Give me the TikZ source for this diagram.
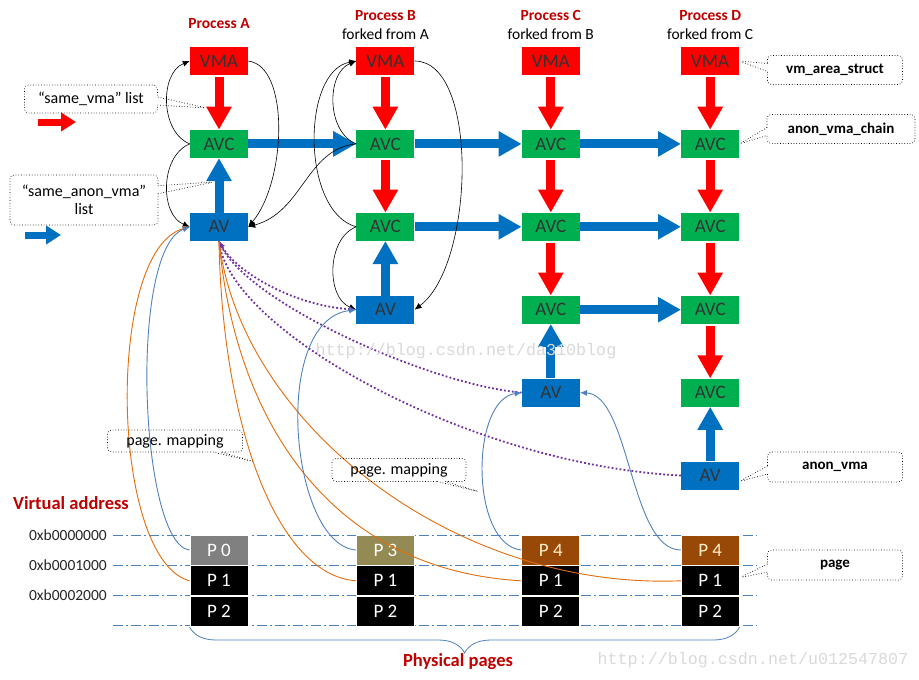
\documentclass[tikz,border=0pt]{standalone}
\usepackage{fontspec}
\setmainfont{Carlito}
\newfontfamily\wmfont{Liberation Mono}
\usetikzlibrary{arrows.meta,positioning,calc,shapes.callouts,decorations.pathreplacing}
\definecolor{vmared}{HTML}{FF0000}
\definecolor{avcgreen}{HTML}{00B050}
\definecolor{avblue}{HTML}{0070C0}
\definecolor{procred}{HTML}{C00000}
\definecolor{linkblue}{HTML}{4F81BD}
\definecolor{maporange}{HTML}{E46C0A}
\definecolor{dotpurple}{HTML}{7030A0}
\definecolor{pggray}{HTML}{808080}
\definecolor{pgolive}{HTML}{948A54}
\definecolor{pgbrown}{HTML}{984807}
\definecolor{pgcream}{HTML}{FFEFC8}

\begin{document}
\begin{tikzpicture}[x=1pt,y=-1pt,node distance=54.5pt,>={Latex[length=7pt,width=6pt]},
  box/.style={minimum width=58pt,minimum height=28pt,inner sep=0pt,text=black!80,font=\fontsize{19}{21}\selectfont},
  vma/.style={box,fill=vmared},
  avc/.style={box,fill=avcgreen},
  av/.style={box,fill=avblue},
  pg/.style={minimum width=58pt,minimum height=30pt,inner sep=0pt,draw=white,line width=0.8pt,fill=black,text=white,font=\fontsize{19}{21}\selectfont},
  redarr/.style={draw=vmared,line width=9pt,-{Triangle[width=24pt,length=23pt]},shorten <=2pt},
  bluearr/.style={draw=avblue,line width=9pt,-{Triangle[width=24pt,length=23pt]}},
  legred/.style={draw=vmared,line width=7pt,-{Triangle[width=18pt,length=15pt]}},
  legblue/.style={draw=avblue,line width=7pt,-{Triangle[width=18pt,length=15pt]}},
  link/.style={black,line width=0.6pt,->},
  share/.style={dotpurple,line width=1.8pt,dash pattern=on 1.8pt off 2.2pt},
  mapo/.style={maporange,line width=0.9pt},
  mapb/.style={linkblue,line width=0.9pt},
  grid/.style={linkblue,line width=0.8pt,dash pattern=on 10pt off 3pt on 2pt off 3pt},
  proc/.style={text=procred,font=\bfseries\fontsize{15.5}{17}\selectfont,inner sep=0pt},
  fork/.style={font=\fontsize{15.5}{17}\selectfont,inner sep=0pt},
  head/.style={text=procred,font=\bfseries\fontsize{18.5}{20}\selectfont,inner sep=0pt},
  hex/.style={anchor=east,text=black!85,font=\fontsize{15.5}{17}\selectfont,inner sep=0pt},
  note/.style={rectangle callout,draw,dotted,line width=0.7pt,rounded corners=4pt,callout pointer width=8pt,inner sep=0pt,font=\fontsize{16}{18}\selectfont},
  notebold/.style={note,font=\bfseries\fontsize{15}{17}\selectfont},
  wmark/.style={text=black!15,font=\wmfont\fontsize{16.7}{18}\selectfont,inner sep=0pt}]
  \useasboundingbox (0,0) rectangle (919,680);

  % process A
  \node[vma] (vmaA) at (219,61)       {VMA};
  \node[avc] (avcA) [below=of vmaA]   {AVC};
  \node[av]  (avA)  [below=of avcA]   {AV};
  % process B
  \node[vma] (vmaB)  [right=108pt of vmaA] {VMA};
  \node[avc] (avcB1) [below=of vmaB]       {AVC};
  \node[avc] (avcB2) [below=of avcB1]      {AVC};
  \node[av]  (avB)   [below=of avcB2]      {AV};
  % process C
  \node[vma] (vmaC)  [right=107pt of vmaB] {VMA};
  \node[avc] (avcC1) [below=of vmaC]       {AVC};
  \node[avc] (avcC2) [below=of avcC1]      {AVC};
  \node[avc] (avcC3) [below=of avcC2]      {AVC};
  \node[av]  (avC)   [below=of avcC3]      {AV};
  % process D
  \node[vma] (vmaD)  [right=101pt of vmaC] {VMA};
  \node[avc] (avcD1) [below=of vmaD]       {AVC};
  \node[avc] (avcD2) [below=of avcD1]      {AVC};
  \node[avc] (avcD3) [below=of avcD2]      {AVC};
  \node[avc] (avcD4) [below=of avcD3]      {AVC};
  \node[av]  (avD)   [below=of avcD4]      {AV};

  % titles
  \node[proc] (procA) at ($(vmaA.north)+(0,-23)$) {Process A};
  \node[proc] (procB) at ($(vmaB.north)+(0,-31)$) {Process B};
  \node[fork] (forkB) at ($(vmaB.north)+(0,-13)$) {forked from A};
  \node[proc] (procC) at ($(vmaC.north)+(0,-31)$) {Process C};
  \node[fork] (forkC) at ($(vmaC.north)+(0,-13)$) {forked from B};
  \node[proc] (procD) at ($(vmaD.north)+(0,-31)$) {Process D};
  \node[fork] (forkD) at ($(vmaD.north)+(0,-13)$) {forked from C};

  % virtual address rows
  \draw[grid] (113,535) -- (757,535);
  \draw[grid] (113,565) -- (757,565);
  \draw[grid] (113,595) -- (757,595);
  \draw[grid] (113,625) -- (757,625);
  \node[head] (vaddr) at (71,503) {Virtual address};
  \node[hex] (hex0) at (107,535) {0xb0000000};
  \node[hex] (hex1) at (107,565) {0xb0001000};
  \node[hex] (hex2) at (107,595) {0xb0002000};

  % physical pages
  \coordinate (pgrow) at (0,550);
  \node[pg,fill=pggray]  (topA) at (vmaA |- pgrow) {P 0};
  \node[pg]              (p1A)  [below=0pt of topA] {P 1};
  \node[pg]              (p2A)  [below=0pt of p1A]  {P 2};
  \node[pg,fill=pgolive] (topB) at (vmaB |- pgrow) {P 3};
  \node[pg]              (p1B)  [below=0pt of topB] {P 1};
  \node[pg]              (p2B)  [below=0pt of p1B]  {P 2};
  \node[pg,fill=pgbrown,text=pgcream] (topC) at (vmaC |- pgrow) {P 4};
  \node[pg]              (p1C)  [below=0pt of topC] {P 1};
  \node[pg]              (p2C)  [below=0pt of p1C]  {P 2};
  \node[pg,fill=pgbrown,text=pgcream] (topD) at (vmaD |- pgrow) {P 4};
  \node[pg]              (p1D)  [below=0pt of topD] {P 1};
  \node[pg]              (p2D)  [below=0pt of p1D]  {P 2};
  \draw[linkblue,line width=0.8pt,decorate,decoration={brace,amplitude=26pt,mirror}]
    (p2A.south west) -- (p2D.south east);
  \node[head] (phys) at (458,662) {Physical pages};

  % same_vma and same_anon_vma lists
  \path (vmaA)  edge[redarr] (avcA)
        (vmaB)  edge[redarr] (avcB1)
        (avcB1) edge[redarr] (avcB2)
        (vmaC)  edge[redarr] (avcC1)
        (avcC1) edge[redarr] (avcC2)
        (avcC2) edge[redarr] (avcC3)
        (vmaD)  edge[redarr] (avcD1)
        (avcD1) edge[redarr] (avcD2)
        (avcD2) edge[redarr] (avcD3)
        (avcD3) edge[redarr] (avcD4);
  \path (avA)   edge[bluearr] (avcA)
        (avB)   edge[bluearr] (avcB2)
        (avC)   edge[bluearr] (avcC3)
        (avD)   edge[bluearr] (avcD4)
        (avcA)  edge[bluearr] (avcB1)
        (avcB1) edge[bluearr] (avcC1)
        (avcC1) edge[bluearr] (avcD1)
        (avcB2) edge[bluearr] (avcC2)
        (avcC2) edge[bluearr] (avcD2)
        (avcC3) edge[bluearr] (avcD3);

  % legend
  \coordinate (lgr1) at (38,122);
  \coordinate (lgr2) at (76,122);
  \coordinate (lgb1) at (25,235);
  \coordinate (lgb2) at (61,235);
  \draw[legred]  (lgr1) -- (lgr2);
  \draw[legblue] (lgb1) -- (lgb2);

  % list links
  \draw[link] (vmaA.east)  .. controls +(42,5) and +(38,-45) .. (avA.east);
  \draw[link] (avcA.west)  .. controls +(-30,-12) and +(-30,12) .. (vmaA.west);
  \draw[link] (avcA.west)  .. controls +(-30,12) and +(-30,-12) .. (avA.west);
  \draw[link] (avcB1.west) .. controls +(-50,5) and +(55,-15) .. (avA.east);
  \draw[link] (avcB1.west) .. controls +(-30,-12) and +(-30,12) .. (vmaB.west);
  \draw[link] (avcB2.west) .. controls +(-55,-15) and +(-55,10) .. (vmaB.west);
  \draw[link] (avcB2.west) .. controls +(-30,12) and +(-30,-12) .. (avB.west);
  \draw[link] (vmaB.east)  .. controls +(65,0) and +(60,-45) .. (avB.east);

  % anon_vma hierarchy
  \draw[share,<->] (avB.west) .. controls (290,305) and (235,270) .. (avA.south);
  \draw[share] (avC.west) .. controls (430,385) and (240,300) .. (avA.south);
  \draw[share] (avD.west) .. controls (470,465) and (228,330) .. (avA.south);

  % page mapping
  \draw[mapo,->] (p1A.west)  .. controls (110,560) and (105,250) .. (avA.west);
  \draw[mapb,->] (topA.west) .. controls (140,545) and (128,250) .. (avA.west);
  \draw[mapo] (avA.south) .. controls (222,420) and (275,575) .. (p1B.west);
  \draw[mapo] (avA.south) .. controls (235,420) and (330,570) .. (p1C.west);
  \draw[mapo] (avA.south) .. controls (240,420) and (450,590) .. (p1D.west);
  \draw[mapb,->] (topB.west) .. controls (290,545) and (270,320) .. (avB.west);
  \draw[mapb,->] (topC.west) .. controls (470,545) and (470,400) .. (avC.west);
  \draw[mapb,->] (topD.west) .. controls (630,550) and (630,395) .. (avC.east);

  % notes
  \coordinate (cvma)  at (207,108);
  \coordinate (canon) at (214,182);
  \coordinate (cmapA) at (255,462);
  \coordinate (cmapC) at (480,492);
  \node[note,minimum width=133pt,minimum height=28pt,callout absolute pointer={(cvma)}]
    (nsvma) at (91,99) {“same\_vma” list};
  \node[note,minimum width=148pt,minimum height=50pt,align=center,callout absolute pointer={(canon)}]
    (nsanon) at (84,200) {“same\_anon\_vma”\\list};
  \node[notebold,minimum width=135pt,minimum height=29pt,callout absolute pointer={(vmaD.east)}]
    (nvma) at (835,70) {vm\_area\_struct};
  \node[notebold,minimum width=148pt,minimum height=29pt,callout absolute pointer={(avcD1.east)}]
    (navc) at (841,129) {anon\_vma\_chain};
  \node[notebold,minimum width=135pt,minimum height=30pt,callout absolute pointer={($(avD.east)+(0,6)$)}]
    (nav) at (835,467) {anon\_vma};
  \node[notebold,minimum width=135pt,minimum height=30pt,callout absolute pointer={($(p1D.east)+(0,-3)$)}]
    (npage) at (835,565) {page};
  \node[note,minimum width=135pt,minimum height=22pt,callout absolute pointer={(cmapA)}]
    (nmapA) at (175,441) {page. mapping};
  \node[note,minimum width=134pt,minimum height=23pt,callout absolute pointer={(cmapC)}]
    (nmapC) at (399,470) {page. mapping};

  % watermarks
  \node[wmark] (wm1) at (466,351) {http://blog.csdn.net/da310blog};
  \node[wmark] (wm2) at (753,660) {http://blog.csdn.net/u012547807};
\end{tikzpicture}
\end{document}
